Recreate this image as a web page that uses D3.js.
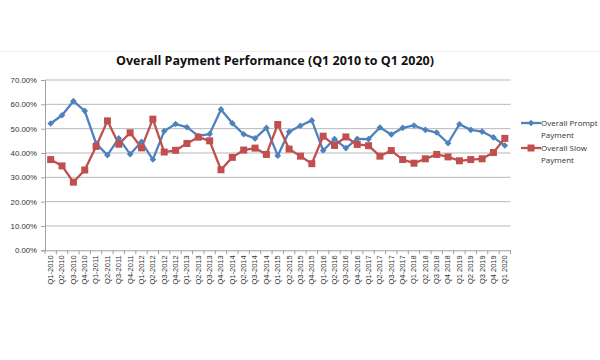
<!DOCTYPE html>
<html><head><meta charset="utf-8">
<script src="https://cdn.jsdelivr.net/npm/d3@7"></script>
<style>body{margin:0;background:#fff;}svg{display:block;}</style>
</head><body><svg id="c" width="600" height="360"></svg>
<script>
const categories = ["Q1-2010","Q2-2010","Q3-2010","Q4-2010","Q1-2011","Q2-2011","Q3-2011","Q4-2011","Q1-2012","Q2-2012","Q3-2012","Q4-2012","Q1-2013","Q2-2013","Q3-2013","Q4-2013","Q1-2014","Q2-2014","Q3-2014","Q4-2014","Q1-2015","Q2-2015","Q3-2015","Q4-2015","Q1-2016","Q2-2016","Q3-2016","Q4-2016","Q1-2017","Q2-2017","Q3-2017","Q4-2017","Q1 2018","Q2 2018","Q3 2018","Q4 2018","Q1 2019","Q2 2019","Q3 2019","Q4 2019","Q1 2020"];
const promptPayment = [52.1,55.5,61.3,57.3,43.9,39.1,46.0,39.5,44.6,37.3,49.0,51.9,50.6,47.0,47.8,57.9,52.2,47.7,46.0,50.3,38.9,48.7,51.2,53.4,41.0,45.7,42.0,45.8,45.7,50.5,47.6,50.3,51.3,49.5,48.4,44.0,51.8,49.5,48.8,46.4,43.1];
const slowPayment = [37.3,34.7,28.0,33.0,42.7,53.2,43.6,48.3,42.1,53.9,40.4,41.1,43.9,46.5,45.0,33.1,38.2,41.2,42.0,39.4,51.7,41.6,38.7,35.6,46.9,43.1,46.6,43.5,43.0,38.7,41.0,37.3,35.8,37.6,39.4,38.4,36.8,37.3,37.6,40.2,46.0];
const yTicks = [0,10,20,30,40,50,60,70];
const seriesNames = ["Overall Prompt Payment","Overall Slow Payment"];
const colors = ["#4f81bd","#c0504d"];

const svg = d3.select("#c");
const font = "'Liberation Sans', Arial, sans-serif";
const m = {l:45, r:510.5, t:80, b:250.3};

svg.append("line").attr("x1",0).attr("x2",600).attr("y1",51.5).attr("y2",51.5).attr("stroke","#f0f0f0");

svg.append("text").attr("x",275).attr("y",65).attr("text-anchor","middle")
  .attr("font-family","'Open Sans', sans-serif").attr("font-weight","bold").attr("font-size",12.5)
  .attr("fill","#111").text("Overall Payment Performance (Q1 2010 to Q1 2020)");

const x = d3.scaleBand().domain(categories).range([m.l,m.r]);
const y = d3.scaleLinear().domain([0,70]).range([m.b,m.t]);

// gridlines
svg.append("g").selectAll("line").data(yTicks.filter(d=>d>0)).join("line")
  .attr("x1",m.l).attr("x2",m.r).attr("y1",d=>y(d)).attr("y2",d=>y(d))
  .attr("stroke","#b8b8b8").attr("stroke-width",1);

// y axis
const ya = svg.append("g").attr("transform",`translate(${m.l},0)`)
  .call(d3.axisLeft(y).tickValues(yTicks).tickFormat(d=>d.toFixed(2)+"%").tickSize(4).tickPadding(4));
ya.select(".domain").attr("stroke","#a0a0a0");
ya.selectAll(".tick line").attr("stroke","#a0a0a0");
ya.selectAll("text").attr("font-family",font).attr("font-size",7.8).attr("fill","#333");

// x axis
const xa = svg.append("g").attr("transform",`translate(0,${m.b})`)
  .call(d3.axisBottom(x).tickSize(0).tickPadding(0));
xa.select(".domain").attr("stroke","#a0a0a0");
xa.selectAll(".tick line").remove();
xa.append("g").selectAll("line").data(d3.range(categories.length+1)).join("line")
  .attr("x1",i=>m.l+i*x.step()).attr("x2",i=>m.l+i*x.step()).attr("y1",0).attr("y2",4)
  .attr("stroke","#a0a0a0");
xa.selectAll(".tick text").attr("font-family",font).attr("font-size",7.5).attr("fill","#333")
  .attr("text-anchor","end").attr("dy","0.32em")
  .attr("transform","translate(0,5) rotate(-90)").attr("x",0).attr("y",0);

const series = [promptPayment, slowPayment];
const line = d3.line().x((d,i)=>x(categories[i])+x.bandwidth()/2).y(d=>y(d));
series.forEach((s,k)=>{
  svg.append("path").datum(s).attr("d",line).attr("fill","none")
    .attr("stroke",colors[k]).attr("stroke-width",2.3).attr("stroke-linejoin","round");
});
// markers
svg.append("g").selectAll("path").data(promptPayment).join("path")
  .attr("d",d3.symbol(d3.symbolDiamond2,28)())
  .attr("transform",(d,i)=>`translate(${x(categories[i])+x.bandwidth()/2},${y(d)})`)
  .attr("fill",colors[0]);
svg.append("g").selectAll("rect").data(slowPayment).join("rect")
  .attr("x",(d,i)=>x(categories[i])+x.bandwidth()/2-3.5).attr("y",d=>y(d)-3.5)
  .attr("width",7).attr("height",7).attr("fill",colors[1]);

// legend
const lg = svg.append("g");
const legendY = [123,148];
seriesNames.forEach((n,k)=>{
  const ly = legendY[k];
  lg.append("line").attr("x1",521).attr("x2",541).attr("y1",ly).attr("y2",ly)
    .attr("stroke",colors[k]).attr("stroke-width",2.3);
  if(k===0){
    lg.append("path").attr("d",d3.symbol(d3.symbolDiamond2,28)()).attr("transform",`translate(531,${ly})`).attr("fill",colors[k]);
  } else {
    lg.append("rect").attr("x",527.5).attr("y",ly-3.5).attr("width",7).attr("height",7).attr("fill",colors[k]);
  }
  const words = n.split(" ");
  const t = lg.append("text").attr("font-family","'Open Sans', sans-serif").attr("font-size",8).attr("fill","#333");
  t.append("tspan").attr("x",541).attr("y",ly+2.8).text(words.slice(0,2).join(" "));
  t.append("tspan").attr("x",541).attr("y",ly+15).text(words.slice(2).join(" "));
});
</script></body></html>
